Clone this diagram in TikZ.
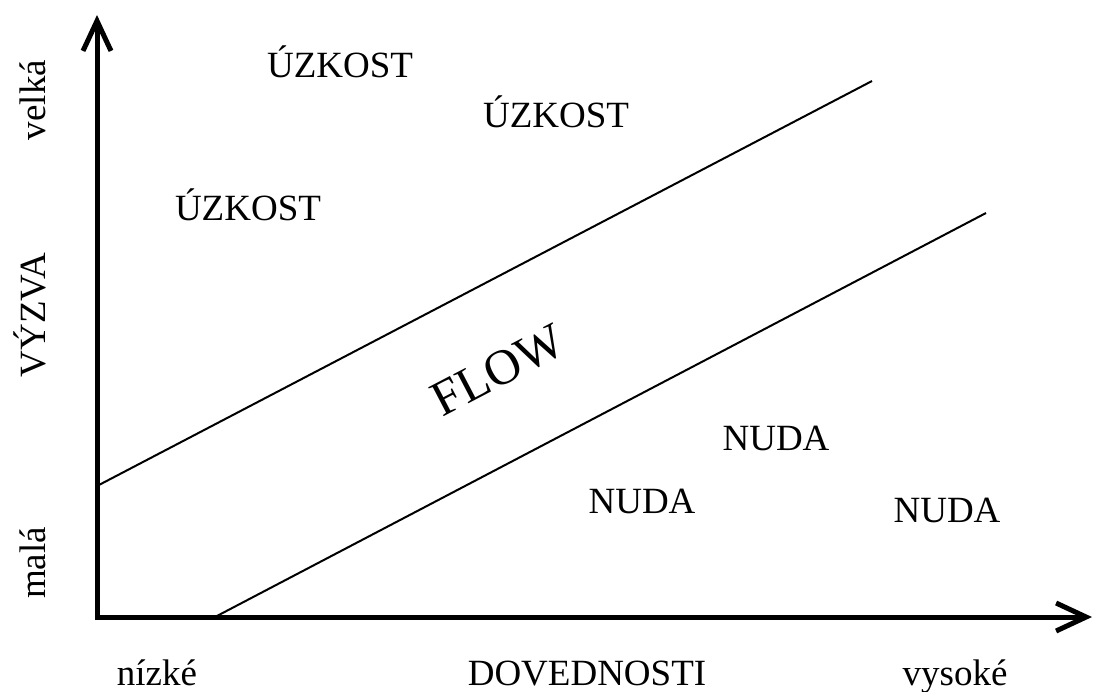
\documentclass[tikz,border=0pt]{standalone}
\usepackage{fontspec}
\setmainfont{Liberation Serif}
\usetikzlibrary{arrows.meta}

\begin{document}
\begin{tikzpicture}[x=0.5pt, y=-0.5pt]%
        \tikzstyle{axis} = [{Straight Barb[length=15pt, width=14pt]}-{Straight Barb[length=15pt, width=14pt]}, line width=2.5pt]
        \tikzstyle{border} = [line width=1pt]
        \tikzstyle{word} = [font=\fontsize{18.5}{22}\selectfont, inner sep=0pt, anchor=base]
        \useasboundingbox (0,0) rectangle (1095,691);

        \coordinate (origin) at (97,617);
        \coordinate (ytop) at (97,15);
        \coordinate (xend) at (1092,617);
        \draw[axis] (ytop) -- (origin) -- (xend);

        % flow channel
        \coordinate (upperstart) at (97,486);
        \coordinate (upperend) at (872,81);
        \coordinate (lowerstart) at (215,617);
        \coordinate (lowerend) at (986,213);
        \draw[border] (upperstart) -- (upperend);
        \draw[border] (lowerstart) -- (lowerend);

        \foreach \x/\y [count=\i] in {340/77, 556/127, 248/220}{
          \node[word] (anxiety\i) at (\x,\y) {ÚZKOST};
        }
        \foreach \x/\y [count=\i] in {776/450, 642/513, 947/522}{
          \node[word] (boredom\i) at (\x,\y) {NUDA};
        }
        \node[font=\fontsize{25}{30}\selectfont, rotate=27.6] (flow) at (498,370) {FLOW};

        \node[word, rotate=90] (high) at (45,100) {velká};
        \node[word, rotate=90] (challenge) at (45,315) {VÝZVA};
        \node[word, rotate=90] (low) at (45,563) {malá};

        \node[word] (lowskill) at (157,685) {nízké};
        \node[word] (skills) at (587,685) {DOVEDNOSTI};
        \node[word] (highskill) at (955,685) {vysoké};
      \end{tikzpicture}
\end{document}
